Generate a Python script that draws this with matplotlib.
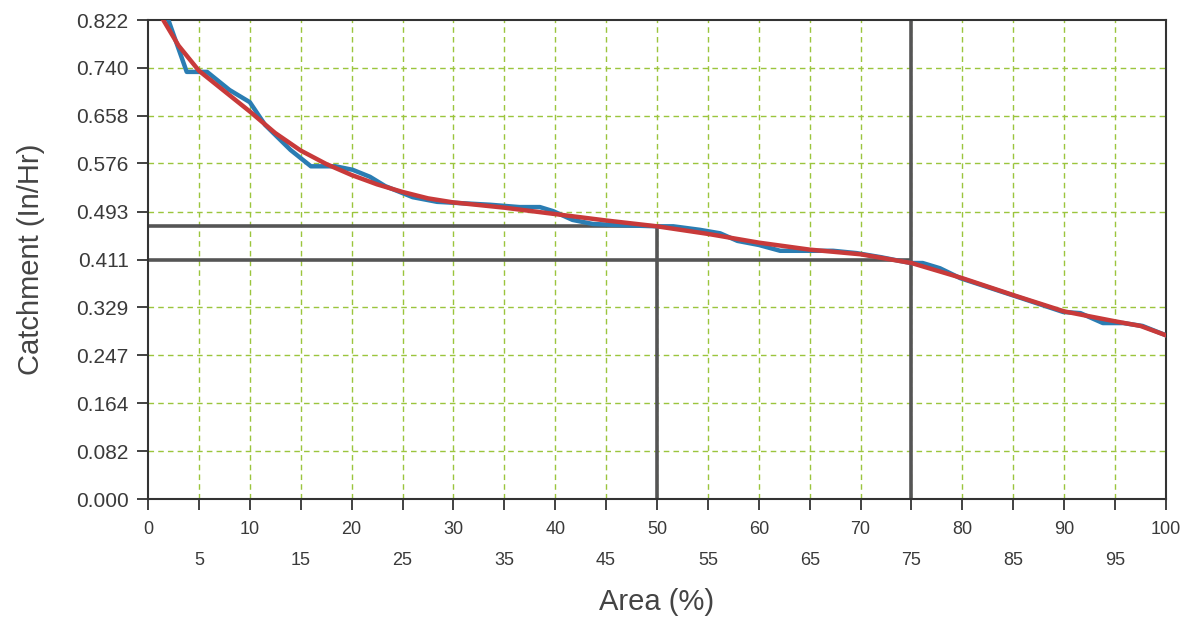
import matplotlib
matplotlib.use("Agg")
import matplotlib.pyplot as plt
from matplotlib.ticker import FixedLocator

plt.rcParams["font.family"] = ["Liberation Sans", "DejaVu Sans"]

# ---- data ----
area_raw = [2, 3.8, 5.8, 8, 10, 11.5, 14, 16, 18.4, 20.1, 21.8, 23.3, 26, 28.4,
            33.6, 36.5, 38.5, 39.8, 41.7, 43.7, 46.4, 50, 51.6, 54.2, 56.2, 57.9,
            60, 62.1, 64, 67.3, 69.6, 72, 74.9, 76.1, 77.8, 79.8, 85.4, 89.9,
            91.6, 93.8, 95.8, 97.7, 100]
catch_raw = [0.822, 0.733, 0.733, 0.702, 0.681, 0.642, 0.599, 0.571, 0.571, 0.565,
             0.553, 0.537, 0.518, 0.510, 0.505, 0.501, 0.501, 0.494, 0.479, 0.472,
             0.470, 0.468, 0.468, 0.462, 0.456, 0.443, 0.436, 0.426, 0.426, 0.426,
             0.422, 0.415, 0.405, 0.405, 0.396, 0.379, 0.347, 0.321, 0.319, 0.302,
             0.302, 0.297, 0.281]

area_fit = [1.5, 3, 5, 7.5, 10, 12.5, 15, 17.5, 20, 22.5, 25, 27.5, 30, 35, 40,
            45, 50, 55, 60, 65, 70, 75, 80, 85, 90, 95, 97.5, 100]
catch_fit = [0.822, 0.778, 0.735, 0.700, 0.665, 0.628, 0.598, 0.575, 0.556, 0.540,
             0.527, 0.516, 0.509, 0.500, 0.489, 0.478, 0.468, 0.455, 0.440, 0.428,
             0.420, 0.405, 0.379, 0.350, 0.322, 0.305, 0.297, 0.281]

y_ticks = [0.000, 0.082, 0.164, 0.247, 0.329, 0.411, 0.493, 0.576, 0.658, 0.740, 0.822]
x_major = [0, 10, 20, 30, 40, 50, 60, 70, 80, 90, 100]
x_minor = [5, 15, 25, 35, 45, 55, 65, 75, 85, 95]

# reading lines (area %, catchment)
read_50 = (50, 0.468)
read_75 = (75, 0.411)

fig = plt.figure(figsize=(11.9, 6.22), dpi=100)
ax = fig.add_axes([0.1244, 0.1977, 0.8554, 0.7701])

ax.set_xlim(0, 100)
ax.set_ylim(0, 0.822)

# grid
grid_kw = dict(color="#9bc53d", lw=1.0, ls=(0, (4, 3)), zorder=1)
for v in x_major[1:-1] + x_minor:
    ax.axvline(v, **grid_kw)
for v in y_ticks[1:-1]:
    if v != read_75[1]:
        ax.axhline(v, **grid_kw)

# reading lines
line_kw = dict(color="#555555", lw=2.6, zorder=2, solid_capstyle="butt")
ax.plot([0, read_50[0]], [read_50[1], read_50[1]], **line_kw)
ax.plot([read_50[0], read_50[0]], [0, read_50[1]], **line_kw)
ax.plot([0, read_75[0]], [read_75[1], read_75[1]], **line_kw)
ax.plot([read_75[0], read_75[0]], [0, 0.822], **line_kw)

ax.plot(area_raw, catch_raw, color="#2a7db3", lw=3.2, zorder=3)
ax.plot(area_fit, catch_fit, color="#c83a3a", lw=3.2, zorder=4)

# ticks
ax.set_yticks(y_ticks)
ax.set_yticklabels([f"{v:.3f}" for v in y_ticks])
ax.xaxis.set_major_locator(FixedLocator(x_major))
ax.xaxis.set_minor_locator(FixedLocator(x_minor))
ax.set_xticklabels([str(v) for v in x_major])
ax.set_xticklabels([str(v) for v in x_minor], minor=True)

ax.tick_params(axis="y", which="major", length=8, width=1.3, color="#333333",
               labelsize=15, labelcolor="#3a3a3a", pad=6)
ax.tick_params(axis="x", which="major", length=8, width=1.3, color="#333333",
               labelsize=13, labelcolor="#3a3a3a", pad=8)
ax.tick_params(axis="x", which="minor", length=8, width=1.3, color="#333333",
               labelsize=13, labelcolor="#3a3a3a", pad=30)

for s in ax.spines.values():
    s.set_color("#333333")
    s.set_linewidth(1.5)

ax.set_ylabel("Catchment (In/Hr)", fontsize=21, color="#444444", labelpad=22)
ax.set_xlabel("Area (%)", fontsize=21, color="#444444", labelpad=14)

fig.savefig("out.png", dpi=100, facecolor="white")
